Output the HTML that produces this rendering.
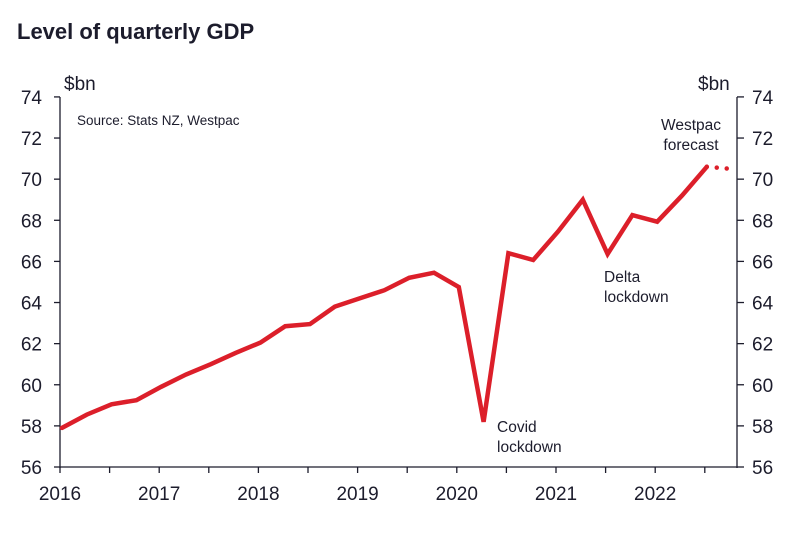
<!DOCTYPE html>
<html><head><meta charset="utf-8">
<style>
body{margin:0;background:#fff;}
svg text{font-family:"Liberation Sans",sans-serif;fill:#1c1c2c;}
</style></head>
<body>
<svg id="chart" width="802" height="533" viewBox="0 0 802 533" xmlns="http://www.w3.org/2000/svg">
<text x="17" y="39" font-size="22" font-weight="bold" style="font-weight:600">Level of quarterly GDP</text>
<text x="64" y="90" font-size="19">$bn</text>
<text x="698" y="90" font-size="19">$bn</text>
<text x="77" y="125" font-size="13.5">Source: Stats NZ, Westpac</text>
<text font-size="15.5" text-anchor="middle"><tspan x="691" y="130">Westpac</tspan><tspan x="691" y="150">forecast</tspan></text>
<text font-size="15.5"><tspan x="497" y="432">Covid</tspan><tspan x="497" y="452">lockdown</tspan></text>
<text font-size="15.5"><tspan x="604" y="282">Delta</tspan><tspan x="604" y="302">lockdown</tspan></text>
<g id="axes"></g>
<g id="marks"></g>
</svg>
<script>
const years = [2016,2017,2018,2019,2020,2021,2022];
const yTicks = [56,58,60,62,64,66,68,70,72,74];
const gdpActual = [57.9,58.55,59.05,59.25,59.9,60.5,61.0,61.55,62.05,62.85,62.95,63.8,64.2,64.6,65.2,65.45,64.75,58.2,66.4,66.07,67.45,69.0,66.36,68.25,67.93,69.2,70.6];
const gdpForecast = [70.6,70.5];
const startYear = 2016;

const NS="http://www.w3.org/2000/svg";
function xs(t){return 60+(t-startYear)*99.2;}
function ys(v){return 467-(v-56)*20.56;}
function qx(i){return xs(startYear+i*0.25)+2;}
function mk(tag,attrs,parent){const e=document.createElementNS(NS,tag);for(const k in attrs)e.setAttribute(k,attrs[k]);parent.appendChild(e);return e;}
const axes=document.getElementById('axes'), marks=document.getElementById('marks');
const ax='#1c1c2c';
let l=mk('line',{x1:60,y1:97,x2:60,y2:468,stroke:ax,'stroke-width':1.3},axes);

l=mk('line',{x1:737,y1:97,x2:737,y2:468,stroke:ax,'stroke-width':1.3},axes);

l=mk('line',{x1:60,y1:467,x2:737,y2:467,stroke:ax,'stroke-width':1.3},axes);

yTicks.forEach(v=>{
  const y=ys(v);
  let t=mk('line',{x1:54,y1:y,x2:60,y2:y,stroke:ax,'stroke-width':1.3},axes);
  
  t=mk('line',{x1:737,y1:y,x2:744,y2:y,stroke:ax,'stroke-width':1.3},axes);
  
  let tx=mk('text',{x:42,y:y+7,'font-size':19,'text-anchor':'end'},axes);tx.textContent=v;
  
  tx=mk('text',{x:752,y:y+7,'font-size':19},axes);tx.textContent=v;
  
});
years.forEach(yr=>{
  [0,0.5].forEach(h=>{
    const x=xs(yr+h);
    const t=mk('line',{x1:x,y1:467,x2:x,y2:473,stroke:ax,'stroke-width':1.3},axes);
    
  });
  const tx=mk('text',{x:xs(yr),y:500,'font-size':19,'text-anchor':'middle'},axes);tx.textContent=yr;
  
});
const pts=gdpActual.map((v,i)=>qx(i).toFixed(1)+','+ys(v).toFixed(1)).join(' ');
const pl=mk('polyline',{points:pts,fill:'none',stroke:'#dc1f2a','stroke-width':4.5,'stroke-linejoin':'miter','stroke-linecap':'round'},marks);

const n=gdpActual.length-1;
const fpts=gdpForecast.map((v,i)=>qx(n+i).toFixed(1)+','+ys(v).toFixed(1)).join(' ');
const fl=mk('polyline',{points:fpts,fill:'none',stroke:'#dc1f2a','stroke-width':4.5,'stroke-dasharray':'0 10','stroke-dashoffset':'-10','stroke-linecap':'round'},marks);

</script>
</body></html>
